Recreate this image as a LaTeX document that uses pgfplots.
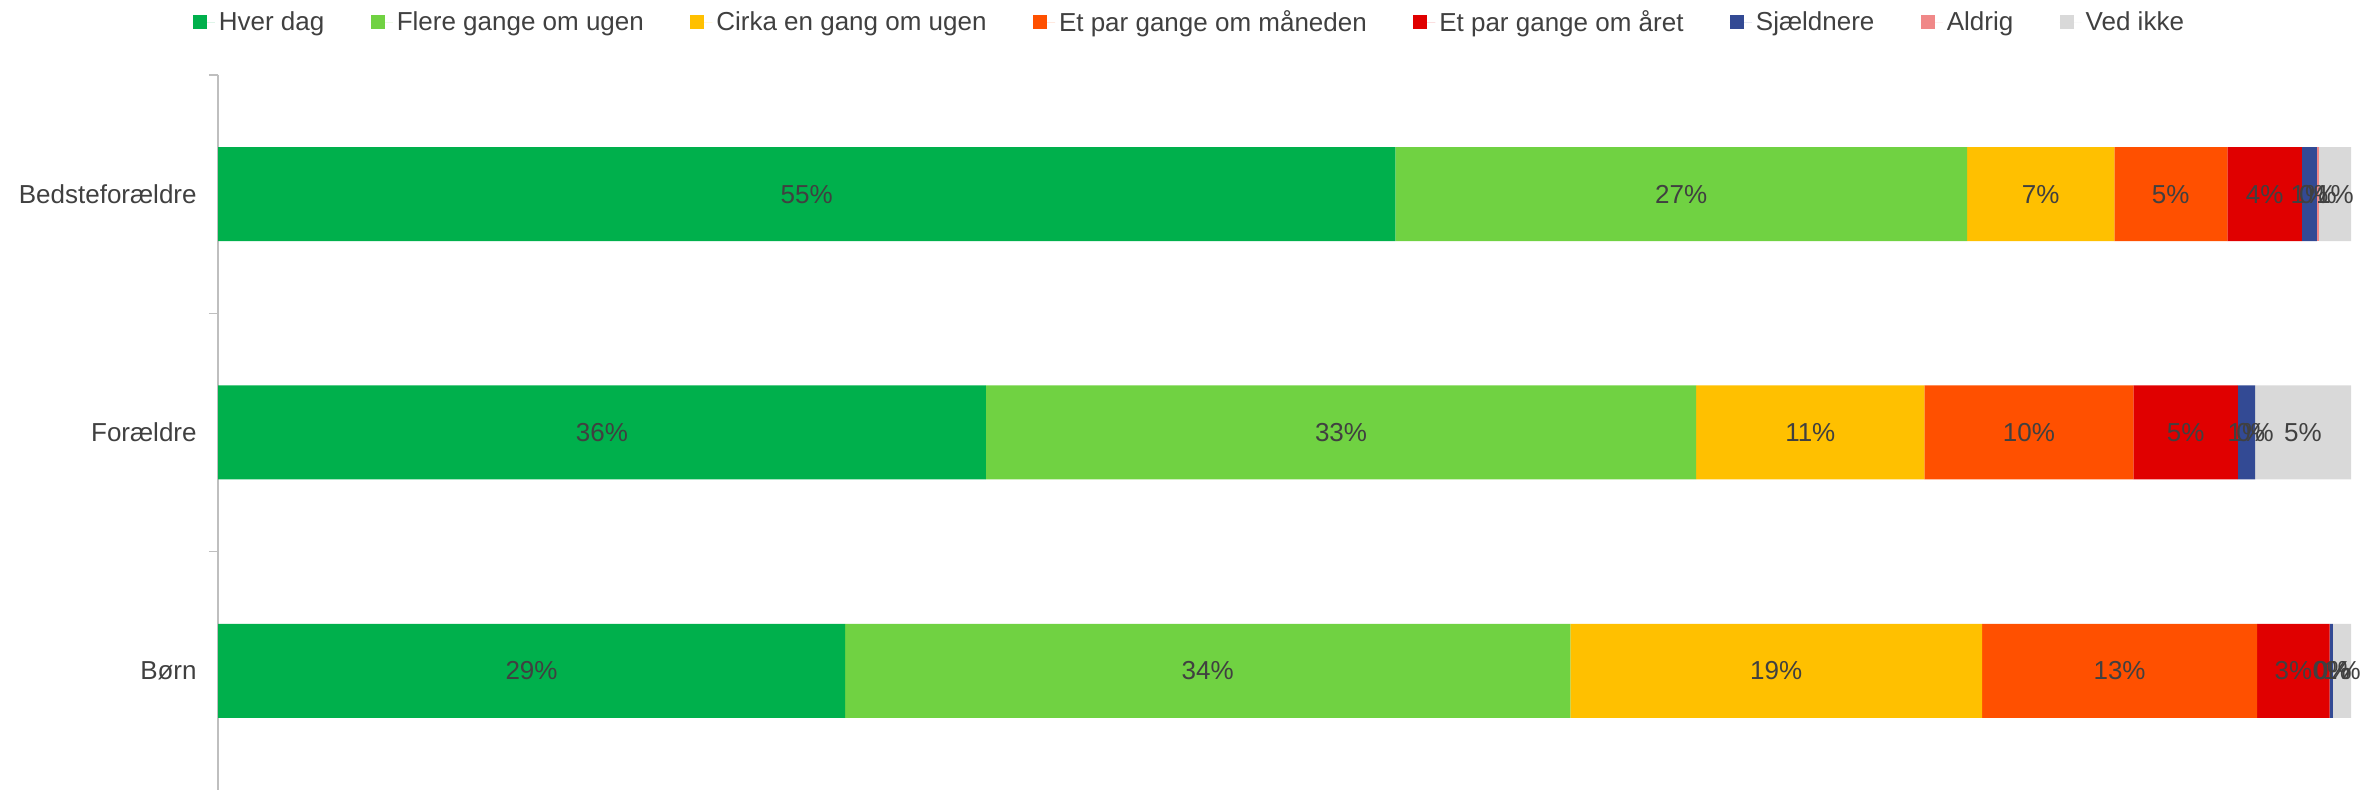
\documentclass[border=0pt]{standalone}
\usepackage{fontspec}
\setmainfont{Liberation Sans}
\usepackage{pgfplots}
\pgfplotsset{compat=1.18}
\usepackage{pgfplotstable}
\definecolor{chd}{RGB}{0,176,76}
\definecolor{cfg}{RGB}{112,210,66}
\definecolor{cce}{RGB}{255,192,0}
\definecolor{cpm}{RGB}{255,80,0}
\definecolor{cpa}{RGB}{224,0,0}
\definecolor{csj}{RGB}{51,74,148}
\definecolor{cal}{RGB}{240,136,136}
\definecolor{cvi}{RGB}{217,217,217}
\definecolor{txt}{RGB}{64,64,64}
\definecolor{axgray}{RGB}{191,191,191}
\pgfplotstableread{
y hd fg ce pm pa sj al vi
0 55.2 26.8 6.9 5.3 3.5 0.7 0.1 1.5
1 36.0 33.3 10.7 9.8 4.9 0.8 0.0 4.5
2 29.4 34.0 19.3 12.9 3.4 0.15 0.0 0.85
}\datatable
\pgfplotstableread{
x y lab
27.6 0 55
68.6 0 27
85.45 0 7
91.55 0 5
95.95 0 4
98.05 0 1
98.45 0 0
99.25 0 1
18.0 1 36
52.65 1 33
74.65 1 11
84.9 1 10
92.25 1 5
95.1 1 1
95.5 1 0
97.75 1 5
14.7 2 29
46.4 2 34
73.05 2 19
89.15 2 13
97.3 2 3
99.075 2 0
99.15 2 0
99.575 2 1
}\labtable
\begin{document}
\begin{tikzpicture}
\useasboundingbox (0,0) rectangle (1180.5pt,395pt);
\begin{axis}[
 at={(109pt,0pt)}, anchor=south west,
 scale only axis, width=1066.5pt, height=357.5pt,
 xbar stacked, bar width=47pt,
 xmin=0, xmax=100, ymin=-0.5, ymax=2.5, y dir=reverse,
 axis x line=none, axis y line*=left,
 axis line style={axgray, line width=0.8pt},
 ytick={0,1,2}, yticklabels={Bedsteforældre,Forældre,Børn},
 minor ytick={-0.5,0.5,1.5},
 major tick length=0pt, minor tick length=4.5pt, tick align=outside,
 tick style={axgray, line width=0.8pt},
 yticklabel style={font=\fontsize{13}{15}\selectfont, text=txt, inner sep=0pt, anchor=east, xshift=-10.5pt},
 legend style={at={(0.4559,1.073)}, anchor=center, draw=none, fill=none,
   font=\fontsize{13}{15}\selectfont, text=txt,
   /tikz/every even column/.append style={column sep=21.2pt}},
 legend columns=-1,
 legend image code/.code={\fill[#1] (0pt,-3pt) rectangle (7pt,4pt); \path (0pt,0pt) -- (11pt,0pt);},
]
\addplot[fill=chd, draw=none] table[x=hd, y=y] {\datatable};
\addplot[fill=cfg, draw=none] table[x=fg, y=y] {\datatable};
\addplot[fill=cce, draw=none] table[x=ce, y=y] {\datatable};
\addplot[fill=cpm, draw=none] table[x=pm, y=y] {\datatable};
\addplot[fill=cpa, draw=none] table[x=pa, y=y] {\datatable};
\addplot[fill=csj, draw=none] table[x=sj, y=y] {\datatable};
\addplot[fill=cal, draw=none] table[x=al, y=y] {\datatable};
\addplot[fill=cvi, draw=none] table[x=vi, y=y] {\datatable};
\legend{Hver dag, Flere gange om ugen, Cirka en gang om ugen, Et par gange om måneden, Et par gange om året, Sjældnere, Aldrig, Ved ikke}
\end{axis}
\begin{axis}[
 at={(109pt,0pt)}, anchor=south west,
 scale only axis, width=1066.5pt, height=357.5pt,
 xmin=0, xmax=100, ymin=-0.5, ymax=2.5, y dir=reverse,
 hide axis, clip=false,
]
\addplot[draw=none, mark=none, nodes near coords={\pgfplotspointmeta\%}, point meta=explicit symbolic,
  every node near coord/.style={anchor=center, font=\fontsize{13}{15}\selectfont, text=txt, inner sep=0pt}]
  table[x=x, y=y, meta=lab] {\labtable};
\end{axis}
\end{tikzpicture}
\end{document}
